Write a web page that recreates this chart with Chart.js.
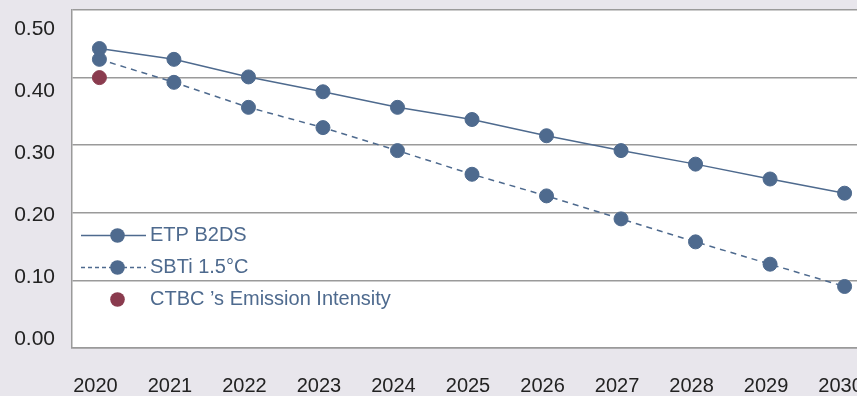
<!DOCTYPE html>
<html>
<head>
<meta charset="utf-8">
<script src="https://cdn.jsdelivr.net/npm/chart.js@4.4.1/dist/chart.umd.min.js"></script>
<style>
  html, body { margin: 0; padding: 0; background: #e8e6ec; overflow: hidden; }
  #wrap { width: 880px; height: 396px; }
</style>
</head>
<body>
<div id="wrap"><canvas id="c" width="880" height="396"></canvas></div>
<script>
// Emission intensity pathways, 2020-2030
const years = [2020, 2021, 2022, 2023, 2024, 2025, 2026, 2027, 2028, 2029, 2030];
const etpB2DS = [0.443, 0.427, 0.401, 0.379, 0.356, 0.338, 0.314, 0.292, 0.272, 0.250, 0.229];
const sbti15 = [0.427, 0.393, 0.356, 0.326, 0.292, 0.257, 0.225, 0.191, 0.157, 0.124, 0.091];
const ctbcYears = [2020];
const ctbcIntensity = [0.40];
const yTickLabels = ['0.00', '0.10', '0.20', '0.30', '0.40', '0.50'];
const seriesNames = ['ETP B2DS', 'SBTi 1.5°C', 'CTBC ’s Emission Intensity'];

const BLUE = '#4e6a8e';
const RED = '#8a3b4e';
const GRID = '#9a9a9a';
const FONT = "'Liberation Sans', Arial, sans-serif";

// Legend swatch: short line segment with a marker on it
function legendSample(color, dash, withLine) {
  const cv = document.createElement('canvas');
  cv.width = 70; cv.height = 18;
  const g = cv.getContext('2d');
  if (withLine) {
    g.strokeStyle = color;
    g.lineWidth = 1.3;
    g.setLineDash(dash);
    g.beginPath();
    g.moveTo(4, 9.5);
    g.lineTo(69, 9.5);
    g.stroke();
    g.setLineDash([]);
  }
  g.fillStyle = color;
  g.beginPath();
  g.arc(40.5, 9.5, 7.3, 0, Math.PI * 2);
  g.fill();
  return cv;
}
const legendSwatches = [
  legendSample(BLUE, [], true),
  legendSample(BLUE, [4, 3], true),
  legendSample(RED, [], false)
];

// White plot area and legend placement inside the lower-left of the plot
const plotArea = {
  id: 'plotArea',
  afterLayout(chart) {
    const lg = chart.legend, ca = chart.chartArea;
    if (lg) { lg.top = ca.top; lg.bottom = ca.bottom - 27; }
  },
  beforeDraw(chart) {
    const { ctx, chartArea: ca } = chart;
    ctx.save();
    ctx.fillStyle = '#ffffff';
    ctx.fillRect(ca.left, ca.top, ca.right - ca.left, ca.bottom - ca.top);
    ctx.restore();
  }
};

const pts = (xs, ys) => xs.map((x, i) => ({ x: x, y: ys[i] }));

new Chart(document.getElementById('c'), {
  type: 'line',
  data: {
    datasets: [
      {
        label: seriesNames[0],
        data: pts(years, etpB2DS),
        borderColor: BLUE,
        backgroundColor: BLUE,
        borderWidth: 1.5,
        pointRadius: 7,
        pointBorderWidth: 1,
        pointBackgroundColor: BLUE,
        pointBorderColor: BLUE,
        tension: 0
      },
      {
        label: seriesNames[1],
        data: pts(years, sbti15),
        borderColor: BLUE,
        backgroundColor: BLUE,
        borderWidth: 1.5,
        borderDash: [6, 5],
        pointRadius: 7,
        pointBorderWidth: 1,
        pointBackgroundColor: BLUE,
        pointBorderColor: BLUE,
        tension: 0
      },
      {
        label: seriesNames[2],
        data: pts(ctbcYears, ctbcIntensity),
        showLine: false,
        borderColor: RED,
        backgroundColor: RED,
        pointRadius: 7,
        pointBorderWidth: 1,
        pointBackgroundColor: RED,
        pointBorderColor: RED
      }
    ]
  },
  plugins: [plotArea],
  options: {
    responsive: false,
    devicePixelRatio: 1,
    animation: false,
    layout: { padding: { top: 10, right: 3, left: 0, bottom: 0 } },
    plugins: {
      tooltip: { enabled: false },
      legend: {
        position: 'chartArea',
        align: 'end',
        labels: {
          usePointStyle: true,
          pointStyleWidth: 56,
          padding: 12,
          color: BLUE,
          font: { family: FONT, size: 20 },
          generateLabels: (chart) => chart.data.datasets.map((ds, i) => ({
            text: ds.label,
            fontColor: BLUE,
            pointStyle: legendSwatches[i],
            datasetIndex: i,
            hidden: false,
            lineWidth: 0
          }))
        }
      }
    },
    scales: {
      x: {
        type: 'linear',
        min: 2019.632,
        max: 2030.368,
        grid: { display: false, drawTicks: false },
        border: { display: true, color: GRID, width: 1.5 },
        afterBuildTicks: (s) => { s.ticks = years.map(v => ({ value: v })); },
        afterFit: (s) => { s.height = 48; s.paddingLeft = 0; s.paddingRight = 0; },
        ticks: {
          padding: 26,
          labelOffset: -4,
          color: '#222',
          font: { family: FONT, size: 20 },
          callback: (v) => String(v)
        }
      },
      y: {
        type: 'linear',
        position: 'left',
        weight: 0,
        min: 0,
        max: 0.5,
        grid: { color: GRID, lineWidth: 1.5, drawTicks: false },
        border: { display: true, color: GRID, width: 1.5 },
        afterBuildTicks: (s) => { s.ticks = yTickLabels.map(t => ({ value: parseFloat(t) })); },
        afterFit: (s) => { s.width = 0; s.paddingTop = 0; s.paddingBottom = 0; },
        ticks: { display: false }
      },
      yLabels: {
        type: 'linear',
        position: 'left',
        weight: 1,
        min: -0.0145,
        max: 0.5311,
        grid: { display: false, drawTicks: false },
        border: { display: false },
        afterBuildTicks: (s) => { s.ticks = yTickLabels.map(t => ({ value: parseFloat(t) })); },
        afterFit: (s) => { s.width = 72; s.paddingTop = 0; s.paddingBottom = 0; },
        ticks: {
          padding: 17,
          color: '#222',
          font: { family: FONT, size: 21 },
          callback: (v) => yTickLabels.find(t => parseFloat(t) === v) || ''
        }
      }
    }
  }
});
</script>
</body>
</html>
